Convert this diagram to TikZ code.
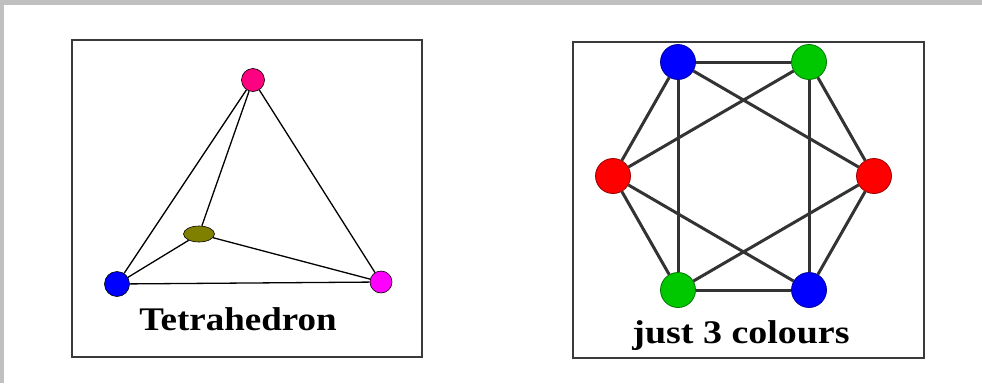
\documentclass[tikz,border=0pt]{standalone}
\usepackage{fontspec}
\usepackage{graphicx}
\setmainfont{Liberation Serif}
\usetikzlibrary{shapes.geometric}
\definecolor{frameg}{HTML}{C0C0C0}
\definecolor{boxline}{HTML}{3A3A3A}
\definecolor{edgeg}{HTML}{333333}
\definecolor{tpink}{HTML}{FF0080}
\definecolor{tolive}{HTML}{808000}
\definecolor{tmag}{HTML}{FF00FF}
\definecolor{cgreen}{HTML}{00C800}
\tikzset{
  panel/.style={draw=boxline, line width=1.8pt},
  tvert/.style={circle, draw=black, line width=0.6pt, minimum size=23pt, inner sep=0pt},
  tedge/.style={draw=black, line width=1.3pt},
  cvert/.style={circle, line width=0.8pt, minimum size=35pt, inner sep=0pt},
  cedge/.style={draw=edgeg, line width=3pt},
  caption/.style={anchor=base, inner sep=0pt, font=\fontsize{33}{40}\selectfont\bfseries}
}
\begin{document}
\begin{tikzpicture}[x=1pt,y=-1pt]
\useasboundingbox (0,0) rectangle (982,383);
\fill[frameg] (0,0) rectangle (982,383);
\fill[white] (4,5) rectangle (982,383);
% panels
\draw[panel] (72,40) rectangle (422,357);
\draw[panel] (573,42) rectangle (924,358);
% tetrahedron
\node[tvert, fill=tpink] (tp) at (253,80) {};
\node[ellipse, draw=black, line width=0.6pt, fill=tolive, minimum width=31pt, minimum height=16pt, inner sep=0pt] (to) at (199,234) {};
\node[tvert, fill=blue, minimum size=25pt] (tb) at (117,284) {};
\node[tvert, fill=tmag, minimum size=22pt] (tm) at (381,282) {};
\draw[tedge] (tp) -- (tb);
\draw[tedge] (tp) -- (to);
\draw[tedge] (tp) -- (tm);
\draw[tedge] (tb) -- (to);
\draw[tedge] (to) -- (tm);
\draw[tedge] (tb) -- (tm);
\node[caption] (tcap) at (238,330) {\scalebox{1.12}[1]{Tetrahedron}};
% three colour graph
\node[cvert, fill=blue, draw=blue!60!black] (a) at (678,62) {};
\node[cvert, fill=cgreen, draw=cgreen!60!black] (b) at (809,62) {};
\node[cvert, fill=red, draw=red!60!black] (c) at (874,176) {};
\node[cvert, fill=blue, draw=blue!60!black] (d) at (809,290) {};
\node[cvert, fill=cgreen, draw=cgreen!60!black] (e) at (678,290) {};
\node[cvert, fill=red, draw=red!60!black] (f) at (613,176) {};
\draw[cedge] (a) -- (b);
\draw[cedge] (b) -- (c);
\draw[cedge] (c) -- (d);
\draw[cedge] (d) -- (e);
\draw[cedge] (e) -- (f);
\draw[cedge] (f) -- (a);
\draw[cedge] (a) -- (e);
\draw[cedge] (b) -- (d);
\draw[cedge] (a) -- (c);
\draw[cedge] (b) -- (f);
\draw[cedge] (f) -- (d);
\draw[cedge] (c) -- (e);
\node[caption] (ccap) at (741,343) {\scalebox{1.15}[1]{just 3 colours}};
\end{tikzpicture}
\end{document}
